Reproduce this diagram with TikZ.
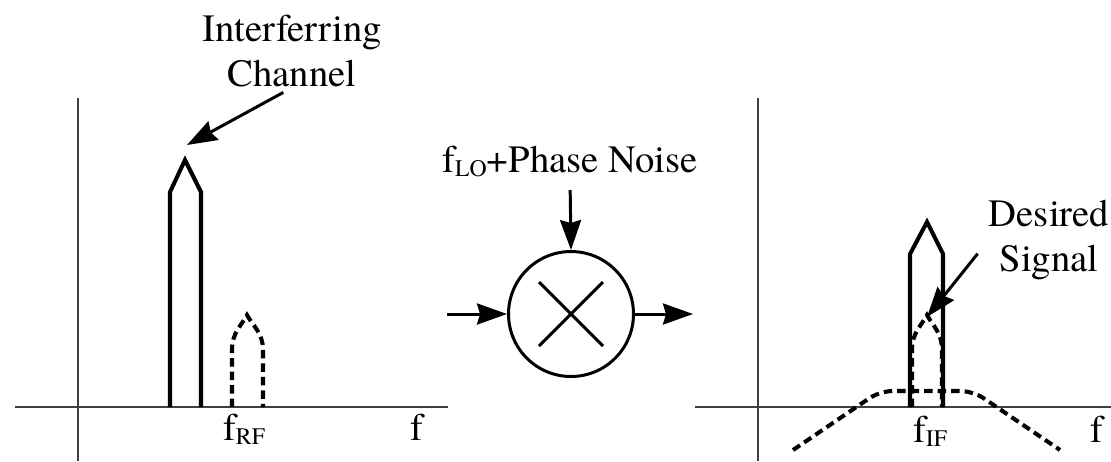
\documentclass[tikz,border=0pt]{standalone}
\usepackage{fontspec}
\setmainfont{texgyretermes-regular.otf}
\usetikzlibrary{arrows.meta}

\newcommand{\lowsub}[1]{\raisebox{-2.8pt}{\fontsize{13.5}{15}\selectfont #1}}

\begin{document}
\begin{tikzpicture}[x=0.02cm, y=-0.02cm,
    >={Stealth[length=0.6cm, width=0.42cm, inset=0.06cm]},
    axis/.style={line width=1pt, black!75},
    pulse/.style={line width=2.3pt},
    ghost/.style={line width=2.3pt, dash pattern=on 0.17cm off 0.1cm},
    pointer/.style={->, line width=1.7pt},
    lbl/.style={font=\fontsize{22}{26}\selectfont, inner sep=0pt},
    mixer/.style={circle, draw, line width=1.7pt, minimum size=2.5cm, inner sep=0pt}]
  \useasboundingbox (0,0) rectangle (1111,461);

  % Axes
  \draw[axis] (15,407) -- (448,407);
  \draw[axis] (78,98) -- (78,461);
  \draw[axis] (695,407) -- (1111,407);
  \draw[axis] (758,98) -- (758,461);

  % Input spectrum
  \draw[pulse] (170,407) -- (170,192) -- (185,160) -- (201,192) -- (201,407);
  \draw[ghost] (232,407) -- (232,350) .. controls (232,333) and (241,326) .. (247,315)
    .. controls (253,326) and (263,333) .. (263,350) -- (263,407);
  \node[lbl, anchor=base] (frf) at (244,440) {f\lowsub{RF}};
  \node[lbl, anchor=base] (fl) at (417,440) {f};

  % Mixer
  \node[mixer] (mix) at (571,314) {};
  \draw[line width=1.7pt] ([shift={(-32,-32)}]mix.center) -- ([shift={(32,32)}]mix.center);
  \draw[line width=1.7pt] ([shift={(-32,32)}]mix.center) -- ([shift={(32,-32)}]mix.center);
  \coordinate (in) at (447,314);
  \coordinate (out) at (693,314);
  \draw[pointer] (in) -- (mix.west);
  \draw[pointer] (mix.east) -- (out);
  \node[lbl, anchor=base] (lo) at (570,172) {f\lowsub{LO}+Phase Noise};
  \draw[pointer, shorten <=0.25cm] (lo.south) -- (mix.north);

  % Output spectrum
  \draw[ghost, rounded corners=0.25cm] (793,450) -- (880,391) -- (973,391) -- (1060,450);
  \draw[ghost] (912,407) -- (912,350) .. controls (912,333) and (921,326) .. (927,315)
    .. controls (933,326) and (942,333) .. (942,350) -- (942,407);
  \draw[pulse] (910,407) -- (910,254) -- (927,222) -- (943,254) -- (943,407);
  \node[lbl, anchor=base] (fif) at (930,442) {f\lowsub{IF}};
  \node[lbl, anchor=base] (fr) at (1097,442) {f};

  % Pointers
  \node[lbl, align=center] (interf) at (292,51) {Interferring\\Channel};
  \coordinate (ipeak) at (187,145);
  \draw[pointer, shorten <=0.2cm] (interf.south) -- (ipeak);
  \node[lbl, align=center] (desired) at (1049,240) {Desired\\Signal};
  \coordinate (dpeak) at (927,317);
  \draw[pointer, shorten <=0.35cm] (desired.west) -- (dpeak);
\end{tikzpicture}
\end{document}
